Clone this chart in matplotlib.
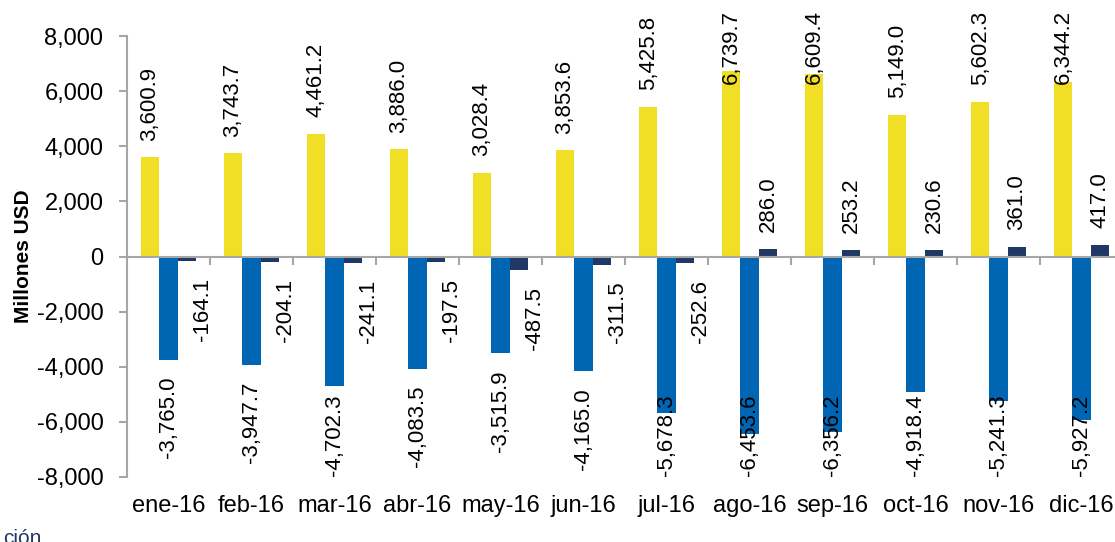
import numpy as np
import matplotlib
matplotlib.use('Agg')
import matplotlib.pyplot as plt
from matplotlib.ticker import FuncFormatter

#------------------------data----------------------
months = ['ene-16', 'feb-16', 'mar-16', 'abr-16', 'may-16', 'jun-16',
          'jul-16', 'ago-16', 'sep-16', 'oct-16', 'nov-16', 'dic-16']
exportaciones = [3600.9, 3743.7, 4461.2, 3886.0, 3028.4, 3853.6,
                 5425.8, 6739.7, 6609.4, 5149.0, 5602.3, 6344.2]
importaciones = [-3765.0, -3947.7, -4702.3, -4083.5, -3515.9, -4165.0,
                 -5678.3, -6453.6, -6356.2, -4918.4, -5241.3, -5927.2]
balanza = [-164.1, -204.1, -241.1, -197.5, -487.5, -311.5,
           -252.6, 286.0, 253.2, 230.6, 361.0, 417.0]
y_ticks = [-8000, -6000, -4000, -2000, 0, 2000, 4000, 6000, 8000]

plt.rcParams['font.family'] = ['Liberation Sans', 'DejaVu Sans']

W, H = 1115, 542
fig = plt.figure(figsize=(W / 100, H / 100), dpi=100)
# plot area: left spine at x=127px, 8000 at y=36px, -8000 at y=477px, 83px per month
ax = fig.add_axes([127 / W, (H - 477) / H, 996 / W, 441 / H])

x = np.arange(len(months))
bw = 0.222
grey = '#A6A6A6'

ax.bar(x - bw, exportaciones, bw, color='#F0DF24', zorder=2)
ax.bar(x, importaciones, bw, color='#0066B3', zorder=2)
ax.bar(x + bw, balanza, bw, color='#1F3864', zorder=2)

ax.set_xlim(-0.5, 11.5)
ax.set_ylim(-8000, 8000)

#------------------------axes styling----------------------
for s in ['top', 'right']:
    ax.spines[s].set_visible(False)
ax.spines['left'].set_color(grey)
ax.spines['left'].set_linewidth(1.5)
ax.spines['bottom'].set_position(('data', 0))
ax.spines['bottom'].set_color(grey)
ax.spines['bottom'].set_linewidth(1.5)
ax.spines['bottom'].set_zorder(3)

ax.set_yticks(y_ticks)
ax.yaxis.set_major_formatter(FuncFormatter(lambda v, p: f'{v:,.0f}'))
ax.tick_params(axis='y', length=6, width=1.5, color=grey, pad=11, labelsize=17)

ax.set_xticks(x)
ax.set_xticklabels(months)
ax.set_xticks(x[:-1] + 0.5, minor=True)
ax.tick_params(axis='x', which='major', length=0, pad=172, labelsize=17)
ax.tick_params(axis='x', which='minor', length=6, width=1.5, color=grey)

ax.set_ylabel('Millones USD', fontsize=15, fontweight='bold')
ax.yaxis.set_label_coords(-0.094, 0.5)

#------------------------data labels----------------------
gap = 12  # points between bar end and label
labels = []
for i in range(len(months)):
    for off, v, dx in [(-bw, exportaciones[i], 0), (0, importaciones[i], 0),
                       (bw, balanza[i], 16 if balanza[i] < 0 else 0)]:
        t = ax.annotate(f'{v:,.1f}', (x[i] + off, v), xytext=(dx * 0.72, gap if v > 0 else -gap),
                        textcoords='offset points', rotation=90, ha='center',
                        va='bottom' if v > 0 else 'top', fontsize=16,
                        annotation_clip=False, zorder=4)
        labels.append(t)

# keep labels inside the chart area like the original
fig.canvas.draw()
renderer = fig.canvas.get_renderer()
top_px, bottom_px = H - 10, H - 476
for t in labels:
    bb = t.get_window_extent(renderer)
    dx, dy = t.xyann
    if bb.y1 > top_px:
        t.xyann = (dx, dy - (bb.y1 - top_px) * 0.72)
    elif bb.y0 < bottom_px:
        t.xyann = (dx, dy + (bottom_px - bb.y0) * 0.72)

# leftover text of the slide under the chart
fig.text(3 / W, -6 / H, 'ción', color='#1F3864', fontsize=15, ha='left', va='bottom')

fig.savefig('out.png', dpi=100)
